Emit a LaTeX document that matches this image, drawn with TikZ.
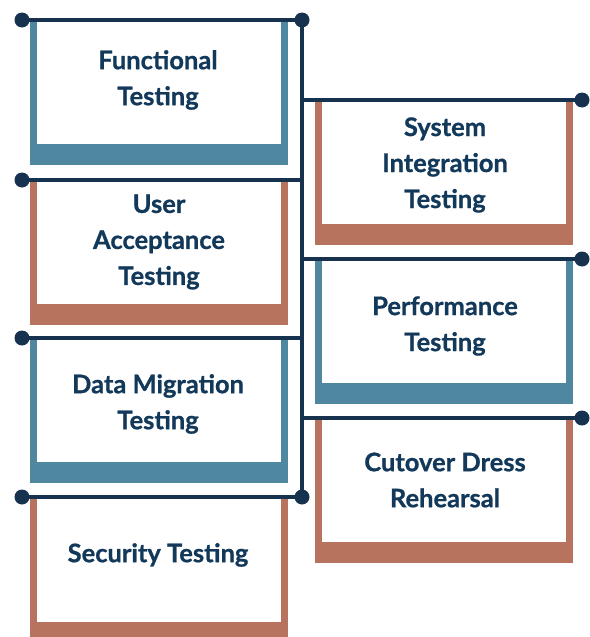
\documentclass[tikz,border=0pt]{standalone}
\usepackage{fontspec}
\setmainfont{Lato}[BoldFeatures={FakeBold=0.8}]
\definecolor{tblue}{HTML}{4F87A0}
\definecolor{tbrown}{HTML}{B8735F}
\definecolor{navy}{HTML}{17324F}
\definecolor{ink}{HTML}{12385A}
\tikzset{
  frame/.style={rectangle, anchor=north west, inner sep=0pt, minimum width=258pt, minimum height=145pt},
  paper/.style={rectangle, anchor=north west, fill=white, inner sep=0pt, minimum width=244pt, minimum height=124pt},
  label/.style={align=center, inner sep=0pt, font=\fontsize{25.5}{36}\selectfont\bfseries, text=ink},
  wire/.style={draw=navy, line width=3.5pt},
  dot/.style={fill=navy}
}
\begin{document}
\begin{tikzpicture}[x=1pt, y=-1pt]
\useasboundingbox (0,0) rectangle (589,637);

% left column of test stages
\node[frame, fill=tblue]  (f1) at (30,20)  {};
\node[paper]              (p1) at (37,20)  {};
\node[frame, fill=tbrown] (f2) at (30,180) {};
\node[paper]              (p2) at (37,180) {};
\node[frame, fill=tblue]  (f3) at (30,338) {};
\node[paper]              (p3) at (37,338) {};
\node[frame, fill=tbrown, minimum height=140pt] (f4) at (30,497) {};
\node[paper, minimum height=125pt] (p4) at (37,497) {};

% right column of test stages
\node[frame, fill=tbrown] (g1) at (315,100) {};
\node[paper]              (q1) at (322,100) {};
\node[frame, fill=tblue]  (g2) at (315,259) {};
\node[paper]              (q2) at (322,259) {};
\node[frame, fill=tbrown] (g3) at (315,418) {};
\node[paper]              (q3) at (322,418) {};

% stage names
\node[label] (n1) at (158,80)  {Functional\\Testing};
\node[label] (n2) at (159,242) {User\\Acceptance\\Testing};
\node[label] (n3) at (158,404) {Data Migration\\Testing};
\node[label] (n4) at (158,555) {Security Testing};
\node[label] (m1) at (445,165) {System\\Integration\\Testing};
\node[label] (m2) at (445,326) {Performance\\Testing};
\node[label] (m3) at (445,480) {Cutover Dress\\Rehearsal};

% connector end points
\coordinate (a1) at (22,20);   \coordinate (s1) at (302,20);
\coordinate (a2) at (22,180);  \coordinate (s2) at (302,180);
\coordinate (a3) at (22,338);  \coordinate (s3) at (302,338);
\coordinate (a4) at (22,497);  \coordinate (s4) at (302,497);
\coordinate (t1) at (302,100); \coordinate (b1) at (582,100);
\coordinate (t2) at (302,259); \coordinate (b2) at (582,259);
\coordinate (t3) at (302,418); \coordinate (b3) at (582,418);

% spine and branches
\draw[wire] (s1) -- (s4);
\draw[wire] (a1) -- (s1);
\draw[wire] (a2) -- (s2);
\draw[wire] (a3) -- (s3);
\draw[wire] (a4) -- (s4);
\draw[wire] (t1) -- (b1);
\draw[wire] (t2) -- (b2);
\draw[wire] (t3) -- (b3);

% terminal dots
\foreach \p in {a1,s1,a2,a3,a4,s4,b1,b2,b3}
  \fill[dot] (\p) circle (7.5pt);
\end{tikzpicture}
\end{document}
